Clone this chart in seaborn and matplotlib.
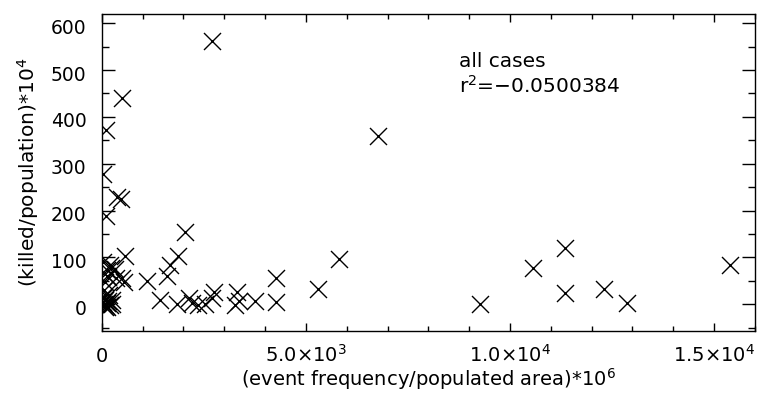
import matplotlib
matplotlib.use("Agg")
import matplotlib.pyplot as plt
import seaborn as sns
import pandas as pd
from matplotlib.ticker import MultipleLocator, FixedLocator
from matplotlib.transforms import ScaledTranslation

# ---- data ----
event_freq = [
    2710, 500, 110, 35, 370, 480, 100, 2045, 6770, 5800, 5290, 4270, 4280,
    9270, 10570, 11350, 11350, 12300, 12860, 15400,
    1880, 1680, 1590, 1100, 1430, 1840, 2130, 2210, 2370, 2530, 2700, 2740,
    3270, 3310, 3370, 3760,
    560, 200, 330, 120, 490, 540, 80, 40, 120, 230, 350, 160, 60, 180, 250,
    30, 60, 80, 100, 120, 150, 50, 200, 90, 140, 70, 260,
]
killed = [
    563, 440, 372, 278, 228, 224, 188, 154, 360, 96, 32, 57, 5,
    1, 78, 121, 24, 33, 2, 84,
    103, 84, 60, 50, 9, 0, 13, 2, -2, 0, 14, 27,
    -1, 27, 6, 7,
    103, 84, 75, 60, 56, 47, 48, 90, 73, 77, 56, 59, 30, 20, 10,
    5, 0, 10, -3, 3, 8, 15, -2, 20, -5, -6, 0,
]
xtick_values = [0, 5000, 10000, 15000]
xtick_labels = ["0", "5.0×10$^{3}$", "1.0×10$^{4}$", "1.5×10$^{4}$"]
ytick_values = [0, 100, 200, 300, 400, 500, 600]
annotation = ["all cases", "r$^{2}$=−0.0500384"]

df = pd.DataFrame({"x": event_freq, "y": killed})

sns.set_style("ticks")
plt.rcParams["font.family"] = ["DejaVu Sans"]
plt.rcParams["mathtext.fontset"] = "dejavusans"
plt.rcParams["text.color"] = "black"
plt.rcParams["axes.labelcolor"] = "black"
plt.rcParams["xtick.color"] = "black"
plt.rcParams["ytick.color"] = "black"

fig = plt.figure(figsize=(7.6, 3.94), dpi=100)
ax = fig.add_axes([0.1338, 0.160, 0.8596, 0.8037])

sns.scatterplot(data=df, x="x", y="y", marker="x", s=150, color="black",
                linewidth=1.0, ax=ax, legend=False)

ax.set_xlim(0, 16000)
ax.set_ylim(-57, 619)

ax.xaxis.set_major_locator(FixedLocator(xtick_values))
ax.set_xticklabels(xtick_labels)
ax.xaxis.set_minor_locator(MultipleLocator(1000))
ax.yaxis.set_major_locator(FixedLocator(ytick_values))
ax.set_yticklabels([str(v) for v in ytick_values])
ax.yaxis.set_minor_locator(MultipleLocator(50))

ax.tick_params(which="both", direction="in", top=True, right=True,
               color="black", width=1.0)
ax.tick_params(axis="x", which="major", length=5.5, labelsize=14, pad=22)
ax.tick_params(axis="x", which="minor", length=3.5)
ax.tick_params(axis="y", which="major", length=9.4, labelsize=13.5, pad=11)
ax.tick_params(axis="y", which="minor", length=4.7)
for lbl in ax.get_xticklabels():
    lbl.set_verticalalignment("baseline")
for lbl in ax.get_yticklabels():
    lbl.set_transform(lbl.get_transform() +
                      ScaledTranslation(0, -3 / 100, fig.dpi_scale_trans))
for s in ax.spines.values():
    s.set_linewidth(1.0)
    s.set_color("black")

ax.set_xlabel("(event frequency/populated area)*10$^{6}$", fontsize=14,
              labelpad=0.5)
ax.set_ylabel("(killed/population)*10$^{4}$", fontsize=14.5, labelpad=7)

ax.text(0.547, 0.833, annotation[0], transform=ax.transAxes, fontsize=14.5,
        va="baseline", ha="left")
ax.text(0.547, 0.752, annotation[1], transform=ax.transAxes, fontsize=14.5,
        va="baseline", ha="left")

fig.savefig("out.png", dpi=100)
